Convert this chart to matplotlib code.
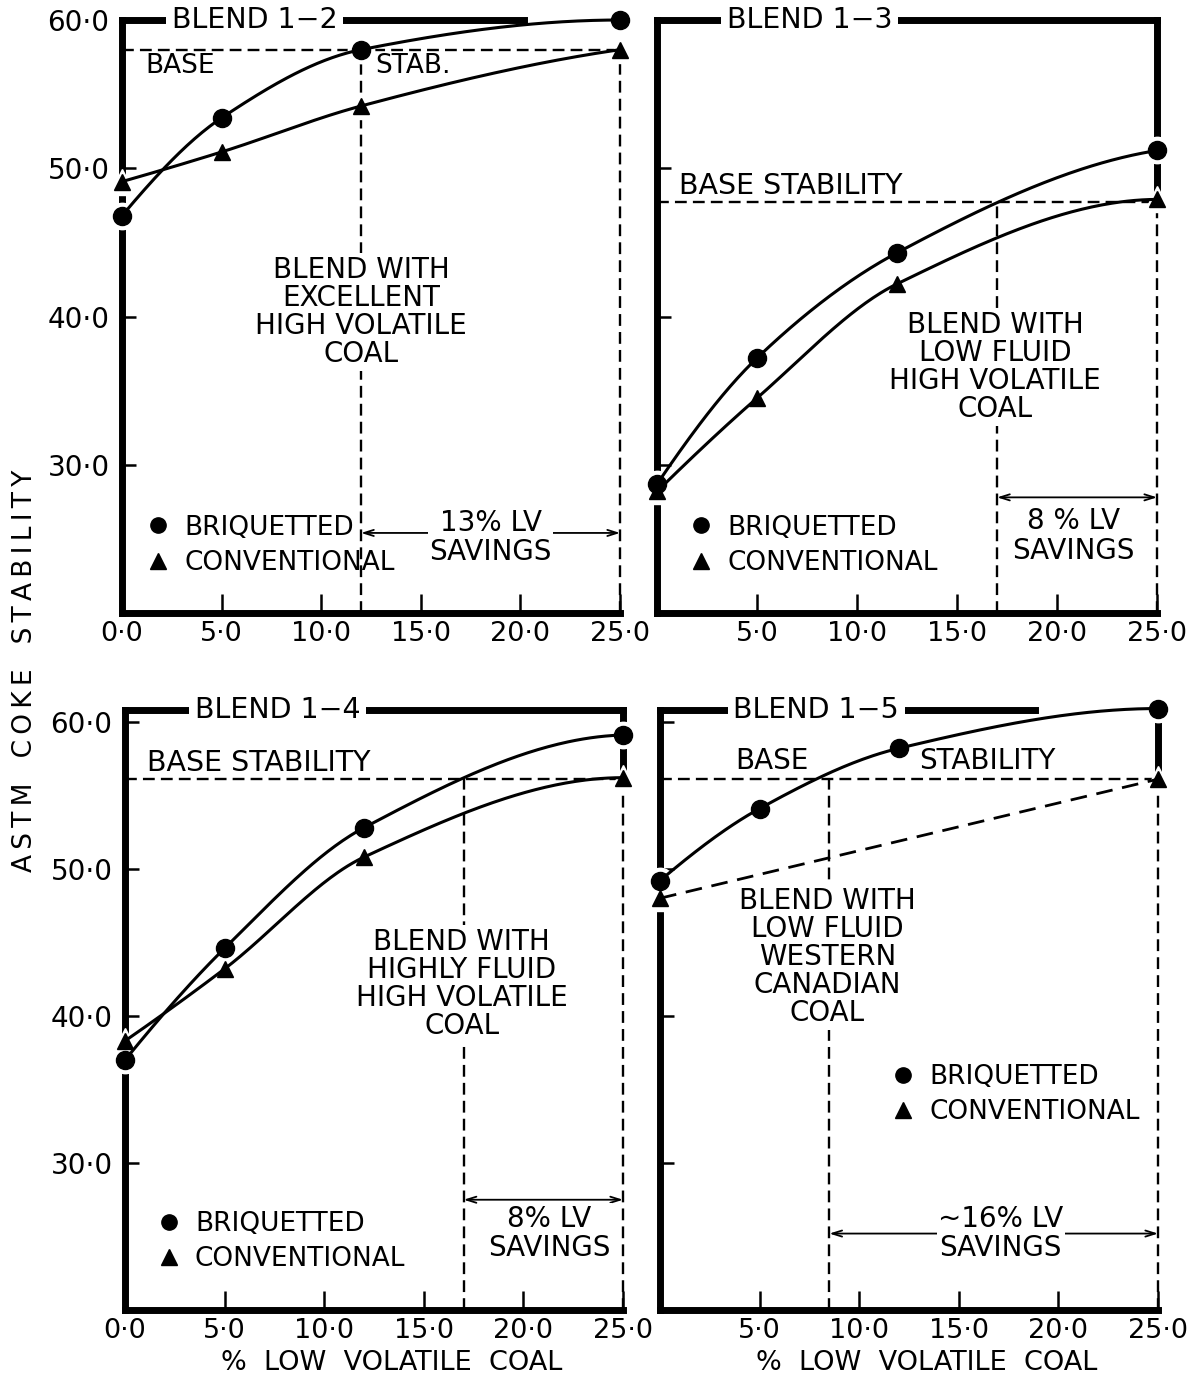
import numpy as np
import matplotlib
matplotlib.use("Agg")
import matplotlib.pyplot as plt
from matplotlib.lines import Line2D

# % low volatile coal in the blend
x_lv = [0, 5, 12, 25]

# ASTM coke stability, blend 1-2
briq_12 = [46.8, 53.4, 58.0, 60.0]
conv_12 = [49.1, 51.1, 54.2, 58.0]
# blend 1-3
briq_13 = [28.7, 37.2, 44.3, 51.2]
conv_13 = [28.2, 34.5, 42.2, 47.9]
# blend 1-4
briq_14 = [37.0, 44.6, 52.8, 59.1]
conv_14 = [38.3, 43.2, 50.8, 56.2]
# blend 1-5 (conventional only run at the two ends)
briq_15 = [49.2, 54.1, 58.2, 60.9]
conv_15_x = [0, 25]
conv_15 = [48.0, 56.1]

# base stability and where the briquetted curve reaches it
base_stab = {"1-2": 58.0, "1-3": 47.7, "1-4": 56.1, "1-5": 56.1}
lv_break = {"1-2": 12.0, "1-3": 17.0, "1-4": 17.0, "1-5": 8.5}
savings_text = {"1-2": "13% LV\nSAVINGS", "1-3": "8 % LV\nSAVINGS",
                "1-4": "8% LV\nSAVINGS", "1-5": "~16% LV\nSAVINGS"}

x_ticks = [0, 5, 10, 15, 20, 25]
x_ticklabels = ["0·0", "5·0", "10·0", "15·0", "20·0", "25·0"]
y_ticks = [30, 40, 50, 60]
y_ticklabels = ["30·0", "40·0", "50·0", "60·0"]

plt.rcParams["font.family"] = ["DejaVu Sans"]

MS_CIRC = 13
MS_TRI = 12
DASH = (0, (5, 2.6))


def pchip(xp, yp, n=200):
    """Shape preserving cubic through the points, for drawing the curves."""
    xp = np.asarray(xp, float)
    yp = np.asarray(yp, float)
    h = np.diff(xp)
    d = np.diff(yp) / h
    m = np.zeros_like(xp)
    for k in range(1, len(xp) - 1):
        if d[k - 1] * d[k] > 0:
            w1 = 2 * h[k] + h[k - 1]
            w2 = h[k] + 2 * h[k - 1]
            m[k] = (w1 + w2) / (w1 / d[k - 1] + w2 / d[k])
    if len(xp) > 2:
        m[0] = ((2 * h[0] + h[1]) * d[0] - h[0] * d[1]) / (h[0] + h[1])
        if np.sign(m[0]) != np.sign(d[0]):
            m[0] = 0
        m[-1] = ((2 * h[-1] + h[-2]) * d[-1] - h[-1] * d[-2]) / (h[-1] + h[-2])
        if np.sign(m[-1]) != np.sign(d[-1]):
            m[-1] = 0
    else:
        m[:] = d[0]
    xs = np.linspace(xp[0], xp[-1], n)
    idx = np.clip(np.searchsorted(xp, xs) - 1, 0, len(h) - 1)
    t = (xs - xp[idx]) / h[idx]
    h00 = 2 * t**3 - 3 * t**2 + 1
    h10 = t**3 - 2 * t**2 + t
    h01 = -2 * t**3 + 3 * t**2
    h11 = t**3 - t**2
    ys = (h00 * yp[idx] + h10 * h[idx] * m[idx]
          + h01 * yp[idx + 1] + h11 * h[idx] * m[idx + 1])
    return xs, ys


def draw_panel(ax, key, bx, by, cx, cy, ytop=60.0, ylabels=True,
               zero_label=True, conv_dashed=False, title_x=0.14):
    base = base_stab[key]
    brk = lv_break[key]
    ax.set_xlim(0, 25)
    ax.set_ylim(20, ytop)

    for side in ["left", "bottom", "top", "right"]:
        ax.spines[side].set_linewidth(5)
        ax.spines[side].set_capstyle("projecting")

    # curves
    xs, ys = pchip(bx, by)
    ax.plot(xs, ys, color="black", lw=2.2, zorder=3.5, clip_on=False)
    if conv_dashed:
        ax.plot(cx, cy, color="black", lw=2.0, ls=(0, (6, 3.5)), zorder=3.5)
    else:
        xs, ys = pchip(cx, cy)
        ax.plot(xs, ys, color="black", lw=2.2, zorder=3.5, clip_on=False)

    # white halo under the markers so they break the frame lines
    ax.plot(bx, by, "o", ms=MS_CIRC + 6, color="white", zorder=3, clip_on=False)
    ax.plot(cx, cy, "^", ms=MS_TRI + 7, color="white", zorder=3, clip_on=False)
    ax.plot(cx, cy, "^", ms=MS_TRI, color="black", zorder=4, clip_on=False)
    ax.plot(bx, by, "o", ms=MS_CIRC, color="black", zorder=4.5, clip_on=False)

    # base stability and savings range
    ax.plot([0, bx[-1]], [base, base], color="black", lw=1.7, ls=DASH, zorder=2)
    ax.plot([brk, brk], [20, base], color="black", lw=1.7, ls=DASH, zorder=2)
    ax.plot([cx[-1], cx[-1]], [20, cy[-1]], color="black", lw=1.7, ls=DASH,
            zorder=2, clip_on=False)

    ax.set_xticks(x_ticks)
    labels = list(x_ticklabels)
    if not zero_label:
        labels[0] = ""
    ax.set_xticklabels(labels)
    ax.set_yticks(y_ticks)
    ax.set_yticklabels(y_ticklabels if ylabels else [""] * len(y_ticks))
    ax.tick_params(axis="y", direction="in", length=10, width=1.8,
                   labelsize=20, pad=9, right=False)
    ax.tick_params(axis="x", direction="in", length=14, width=1.8,
                   labelsize=19.5, pad=6, top=False)

    ax.text(title_x, 1.0, "BLEND 1\u2212" + key[-1],
            transform=ax.transAxes, ha="left", va="center", fontsize=20.5,
            bbox=dict(fc="white", ec="none", pad=4), zorder=6)


def add_savings(ax, key, y_arrow, tx, ty):
    ax.annotate("", xy=(25, y_arrow), xytext=(lv_break[key], y_arrow),
                arrowprops=dict(arrowstyle="<->,head_length=0.7,head_width=0.22",
                                lw=1.3, color="black", shrinkA=0, shrinkB=0),
                zorder=3)
    ax.text(tx, ty, savings_text[key], ha="center", va="center", fontsize=20,
            linespacing=1.08, zorder=5,
            bbox=dict(fc="white", ec="none", pad=1))


def add_legend(ax, anchor):
    handles = [Line2D([], [], ls="none", marker="o", ms=11, color="black"),
               Line2D([], [], ls="none", marker="^", ms=11, color="black")]
    ax.legend(handles, ["BRIQUETTED", "CONVENTIONAL"], loc="lower left",
              bbox_to_anchor=anchor, frameon=False, handlelength=0.8,
              handletextpad=0.6, labelspacing=0.35, borderaxespad=0,
              prop=dict(size=19))


def add_note(ax, x, y, text):
    ax.text(x, y, text, ha="center", va="center", fontsize=20,
            linespacing=1.0, zorder=5, bbox=dict(fc="white", ec="none", pad=2))


fig = plt.figure(figsize=(11.94, 13.8), dpi=100)
ax1 = fig.add_axes([0.1022, 0.5558, 0.4171, 0.4297])
ax2 = fig.add_axes([0.5503, 0.5558, 0.4188, 0.4297])
ax3 = fig.add_axes([0.1047, 0.0507, 0.4171, 0.4348])
ax4 = fig.add_axes([0.5528, 0.0507, 0.4171, 0.4348])

# blend 1-2
draw_panel(ax1, "1-2", x_lv, briq_12, x_lv, conv_12, title_x=0.1)
ax1.spines["right"].set_visible(False)
ax1.spines["top"].set_bounds(0, 20.2)
ax1.text(1.15, 56.9, "BASE", fontsize=19, va="center")
ax1.text(12.7, 56.9, "STAB.", fontsize=19, va="center")
add_note(ax1, 12.0, 40.3, "BLEND WITH\nEXCELLENT\nHIGH VOLATILE\nCOAL")
add_savings(ax1, "1-2", 25.4, 18.5, 25.1)
add_legend(ax1, (0.03, 0.045))

# blend 1-3
draw_panel(ax2, "1-3", x_lv, briq_13, x_lv, conv_13, ylabels=False,
           zero_label=False)
ax2.spines["right"].set_bounds(conv_13[-1], 60)
ax2.text(1.1, 48.8, "BASE STABILITY", fontsize=20.5, va="center")
add_note(ax2, 16.9, 36.6, "BLEND WITH\nLOW FLUID\nHIGH VOLATILE\nCOAL")
add_savings(ax2, "1-3", 27.8, 20.8, 25.2)
add_legend(ax2, (0.045, 0.045))

# blend 1-4
draw_panel(ax3, "1-4", x_lv, briq_14, x_lv, conv_14, ytop=60.8)
ax3.spines["right"].set_bounds(conv_14[-1], 60.8)
ax3.text(1.1, 57.2, "BASE STABILITY", fontsize=20.5, va="center")
add_note(ax3, 16.9, 42.2, "BLEND WITH\nHIGHLY FLUID\nHIGH VOLATILE\nCOAL")
add_savings(ax3, "1-4", 27.5, 21.3, 25.2)
add_legend(ax3, (0.045, 0.045))
ax3.set_xlabel("%  LOW  VOLATILE  COAL", fontsize=19.5)
ax3.xaxis.set_label_coords(0.535, -0.066)

# blend 1-5
draw_panel(ax4, "1-5", x_lv, briq_15, conv_15_x, conv_15, ytop=60.8,
           ylabels=False, zero_label=False, conv_dashed=True, title_x=0.147)
ax4.spines["top"].set_bounds(0, 18.8)
ax4.spines["right"].set_bounds(conv_15[-1], 60.8)
ax4.text(3.8, 57.3, "BASE", fontsize=20, va="center")
ax4.text(13.0, 57.3, "STABILITY", fontsize=20, va="center")
add_note(ax4, 8.4, 44.0, "BLEND WITH\nLOW FLUID\nWESTERN\nCANADIAN\nCOAL")
add_savings(ax4, "1-5", 25.2, 17.1, 25.2)
add_legend(ax4, (0.445, 0.29))
ax4.set_xlabel("%  LOW  VOLATILE  COAL", fontsize=19.5)
ax4.xaxis.set_label_coords(0.535, -0.066)

ts = "\u2009"
ylab = "   ".join(ts.join(w) for w in ["ASTM", "COKE", "STABILITY"])
fig.text(0.021, 0.5138, ylab, rotation=90, ha="center", va="center",
         fontsize=19)

fig.savefig("out.png", dpi=100)
